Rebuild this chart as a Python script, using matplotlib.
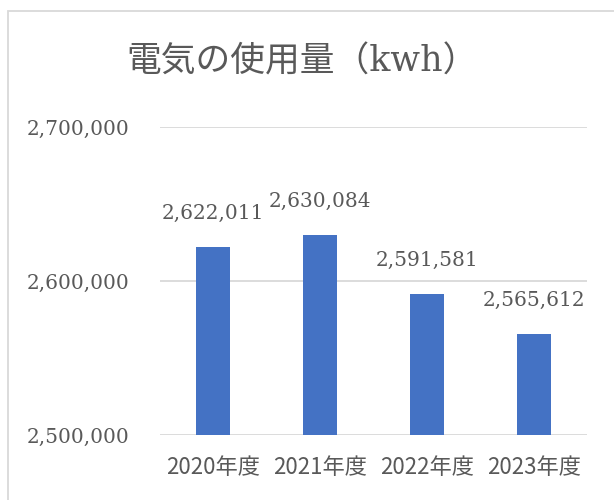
import matplotlib
matplotlib.use('Agg')
import matplotlib.pyplot as plt
from matplotlib.patches import Rectangle
from matplotlib.ticker import FuncFormatter

plt.rcParams['font.family'] = ['DejaVu Serif', 'Noto Sans CJK JP']

# data
categories = ['2020年度', '2021年度', '2022年度', '2023年度']
usage = [2622011, 2630084, 2591581, 2565612]
y_ticks = [2500000, 2600000, 2700000]

text_col = '#595959'
grid_col = '#D9D9D9'
bar_col = '#4472C4'

fig = plt.figure(figsize=(6.14, 5.0), dpi=100)
ax = fig.add_axes([160/614, 1 - 435/500, (587-160)/614, (435-127)/500])

x = range(len(categories))
ax.bar(x, usage, width=0.32, color=bar_col, zorder=3)
ax.set_xlim(-0.5, len(categories) - 0.5)
ax.set_ylim(2500000, 2700000)
ax.set_yticks(y_ticks)
ax.yaxis.set_major_formatter(FuncFormatter(lambda v, p: f'{int(v):,}'))
ax.set_xticks(list(x))
ax.set_xticklabels(categories, family=['Noto Sans CJK JP'], fontsize=16)
ax.grid(axis='y', color=grid_col, linewidth=1.3, zorder=0)
for s in ax.spines.values():
    s.set_visible(False)
ax.tick_params(length=0, colors=text_col)
ax.tick_params(axis='y', pad=22, labelsize=14.5)
ax.tick_params(axis='x', pad=15)

# data labels
for i, v in enumerate(usage):
    ax.annotate(f'{v:,}', (i, v), xytext=(0, 24), textcoords='offset points',
                ha='center', va='center', fontsize=14.5, color=text_col)

fig.text(302/614, 1 - 62/500, '電気の使用量（kwh）', ha='center', va='center',
         fontsize=25, color=text_col, family=['DejaVu Serif', 'Noto Sans CJK JP'])

# chart border
fig.patches.append(Rectangle((8/614, -0.05), 1.0, 1 - 11/500 + 0.05,
                             transform=fig.transFigure, fill=False,
                             edgecolor=grid_col, linewidth=1.3))

fig.savefig('out.png', dpi=100, facecolor='white')
